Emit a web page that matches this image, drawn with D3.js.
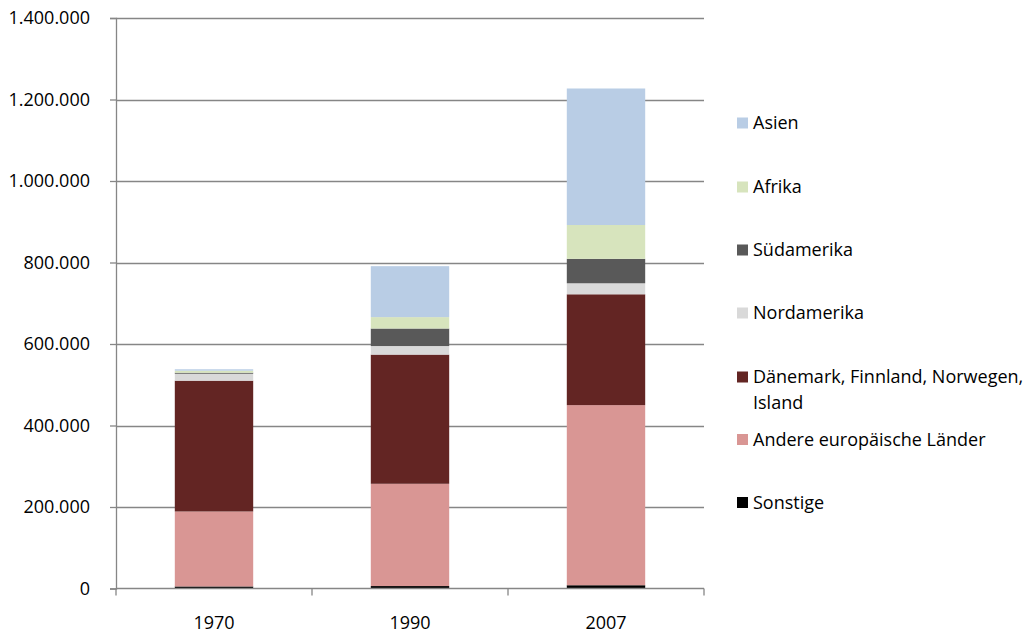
<!DOCTYPE html>
<html>
<head>
<meta charset="utf-8">
<script src="https://cdn.jsdelivr.net/npm/d3@7"></script>
<style>
  html, body { margin: 0; padding: 0; background: #fff; }
  svg { display: block; }
  text { font-family: "Open Sans", sans-serif; fill: #000; }
</style>
</head>
<body>
<svg id="chart" width="1030" height="632"></svg>
<script>
// ---- data ----
const categories = ["1970", "1990", "2007"];
const seriesNames = ["Sonstige", "Andere europäische Länder", "Dänemark, Finnland, Norwegen, Island", "Nordamerika", "Südamerika", "Afrika", "Asien"];
const sonstige    = [5000, 6000, 8000];
const andere      = [184000, 251000, 442000];
const daenemark   = [321000, 317000, 272000];
const nordamerika = [17000, 21000, 27000];
const suedamerika = [2500, 43000, 60000];
const afrika      = [5000, 28000, 83000];
const asien       = [3500, 125000, 335000];
const yTicks = [0, 200000, 400000, 600000, 800000, 1000000, 1200000, 1400000];
const colors = ["#000000", "#D99694", "#632523", "#D9D9D9", "#595959", "#D7E4BD", "#B9CDE5"];

(function () {
const seriesValues = [sonstige, andere, daenemark, nordamerika, suedamerika, afrika, asien];
const keys = seriesNames;
const table = categories.map((c, i) => {
  const row = { cat: c };
  keys.forEach((k, j) => row[k] = seriesValues[j][i]);
  return row;
});
const stacked = d3.stack().keys(keys)(table);

const svg = d3.select("#chart");
const pLeft = 116, pRight = 704, pTop = 18, pBottom = 588.5;
const axisColor = "#868686";

const x = d3.scaleBand().domain(categories).range([pLeft, pRight]).paddingInner(0.6).paddingOuter(0.3);
const y = d3.scaleLinear().domain([0, 1400000]).range([pBottom, pTop]);

// gridlines
svg.append("g").selectAll("line").data(yTicks.filter(d => d > 0)).join("line")
  .attr("x1", pLeft).attr("x2", pRight)
  .attr("y1", d => Math.round(y(d)) + 0.5).attr("y2", d => Math.round(y(d)) + 0.5)
  .attr("stroke", axisColor).attr("stroke-width", 1.3);

// bars
const color = d3.scaleOrdinal().domain(keys).range(colors);
svg.append("g").selectAll("g").data(stacked).join("g")
  .attr("fill", d => color(d.key))
  .selectAll("rect").data(d => d).join("rect")
  .attr("x", d => x(d.data.cat))
  .attr("width", x.bandwidth())
  .attr("y", d => y(d[1]))
  .attr("height", d => y(d[0]) - y(d[1]));

// y axis
const yAxis = d3.axisLeft(y).tickValues(yTicks).tickSize(6).tickPadding(20)
  .tickFormat(d => d3.format(",")(d).replace(/,/g, "."));
const gy = svg.append("g").attr("transform", `translate(${pLeft},0)`).call(yAxis);
gy.select(".domain").attr("stroke", axisColor).attr("stroke-width", 1.3);
gy.selectAll(".tick line").attr("stroke", axisColor).attr("stroke-width", 1.3);
gy.selectAll(".tick text").style("font-family", "'Open Sans', sans-serif").style("font-size", "18px").attr("fill", "#000");

// x axis
const gx = svg.append("g").attr("transform", `translate(0,${pBottom})`);
gx.append("line").attr("x1", pLeft).attr("x2", pRight).attr("y1", 0).attr("y2", 0)
  .attr("stroke", axisColor).attr("stroke-width", 1.3);
const boundaries = [pLeft].concat(categories.map(c => x(c) + x.bandwidth() + x.step() * 0.3));
gx.selectAll("line.tk").data(boundaries).join("line").attr("class", "tk")
  .attr("x1", d => d).attr("x2", d => d).attr("y1", 0).attr("y2", 7)
  .attr("stroke", axisColor).attr("stroke-width", 1.3);
gx.selectAll("text").data(categories).join("text")
  .attr("x", d => x(d) + x.bandwidth() / 2)
  .attr("y", 40)
  .attr("text-anchor", "middle")
  .style("font-size", "18px")
  .text(d => d);

// legend
const legendItems = [
  { key: "Asien", lines: ["Asien"], y: 123 },
  { key: "Afrika", lines: ["Afrika"], y: 187 },
  { key: "Südamerika", lines: ["Südamerika"], y: 250 },
  { key: "Nordamerika", lines: ["Nordamerika"], y: 313 },
  { key: "Dänemark, Finnland, Norwegen, Island", lines: ["Dänemark, Finnland, Norwegen,", "Island"], y: 377 },
  { key: "Andere europäische Länder", lines: ["Andere europäische Länder"], y: 439.5 },
  { key: "Sonstige", lines: ["Sonstige"], y: 502.5 }
];
const lg = svg.append("g");
const items = lg.selectAll("g").data(legendItems).join("g")
  .attr("transform", d => `translate(737,${d.y})`);
items.append("rect").attr("x", 0).attr("y", -5.5).attr("width", 11).attr("height", 11)
  .attr("fill", d => color(d.key));
items.each(function(d) {
  const t = d3.select(this).append("text").attr("x", 16).attr("y", 0).style("font-size", "18px");
  d.lines.forEach((l, i) => {
    t.append("tspan").attr("x", 16).attr("dy", i === 0 ? "0.35em" : 26).text(l);
  });
});
})();
</script>
</body>
</html>
